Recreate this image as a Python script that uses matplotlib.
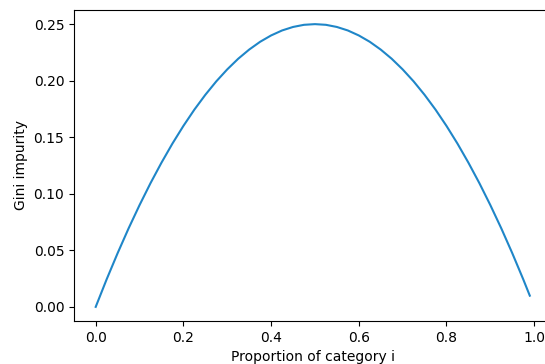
import matplotlib
matplotlib.use('Agg')
import matplotlib.pyplot as plt

# proportion of category i and the Gini impurity
proportion = [0.0, 0.025, 0.05, 0.075, 0.10, 0.125, 0.15, 0.175, 0.20, 0.225,
              0.25, 0.275, 0.30, 0.325, 0.35, 0.375, 0.40, 0.425, 0.45, 0.475,
              0.50, 0.525, 0.55, 0.575, 0.60, 0.625, 0.65, 0.675, 0.70, 0.725,
              0.75, 0.775, 0.80, 0.825, 0.85, 0.875, 0.90, 0.925, 0.95, 0.975,
              0.99]
gini = [0.0, 0.0244, 0.0475, 0.0694, 0.09, 0.1094, 0.1275, 0.1444, 0.16, 0.1744,
        0.1875, 0.1994, 0.21, 0.2194, 0.2275, 0.2344, 0.24, 0.2444, 0.2475, 0.2494,
        0.25, 0.2494, 0.2475, 0.2444, 0.24, 0.2344, 0.2275, 0.2194, 0.21, 0.1994,
        0.1875, 0.1744, 0.16, 0.1444, 0.1275, 0.1094, 0.09, 0.0694, 0.0475, 0.0244,
        0.0099]


def main():
    fig = plt.figure(figsize=(5.45, 3.64), dpi=100)
    ax = fig.add_axes([74 / 545, 43 / 364, 477.5 / 545, 311 / 364])
    ax.plot(proportion, gini, color='#1f86c8')
    ax.set_xlabel('Proportion of category i')
    ax.set_ylabel('Gini impurity')
    fig.savefig('out.png', dpi=100)


if __name__ == '__main__':
    main()
